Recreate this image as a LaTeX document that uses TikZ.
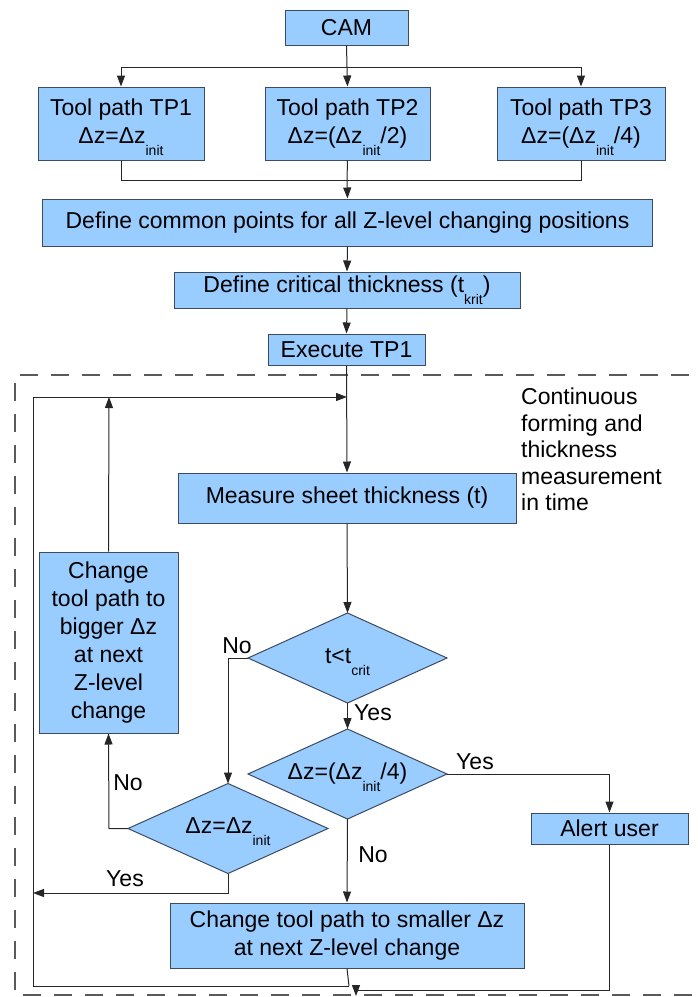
\documentclass[tikz,border=0pt]{standalone}
\usepackage{fontspec}
\setmainfont{Liberation Sans}
\usetikzlibrary{shapes.geometric,arrows.meta}
\definecolor{boxfill}{RGB}{153,204,255}
\definecolor{boxline}{RGB}{60,75,95}
\definecolor{dashcol}{RGB}{90,90,90}
\newcommand{\sbs}[1]{\raisebox{-12pt}{\fontsize{14}{14}\selectfont #1}}
\newcommand{\dtext}[1]{\makebox[0pt][c]{\smash{\raisebox{-5pt}{#1}}}}
\newcommand{\topstrut}{\rule{0pt}{25pt}}
\tikzset{
  box/.style={draw=boxline,fill=boxfill,line width=1pt,inner sep=0pt,align=center,
    font=\fontsize{23}{28}\selectfont},
  dia/.style={diamond,draw=boxline,fill=boxfill,line width=1pt,inner sep=0pt,outer sep=0pt,
    font=\fontsize{23}{28}\selectfont,minimum width=199pt,minimum height=90pt},
  lbl/.style={font=\fontsize{23}{28}\selectfont,inner sep=0pt},
  conn/.style={draw=black!85,line width=1pt},
  arr/.style={conn,-{Triangle[length=11pt,width=8pt]}},
}
\begin{document}
\begin{tikzpicture}[x=1pt,y=-1pt]
\useasboundingbox (0,0) rectangle (697,997);
% dashed frame
\draw[dashcol,line width=1.2pt,dash pattern=on 18pt off 13pt] (720,375) -- (15,375) -- (15,995) -- (720,995);
% nodes
\node[box,minimum width=123pt,minimum height=35pt] (cam) at (346.5,27.5) {CAM};
\node[box,minimum width=166pt,minimum height=73pt] (tp1) at (121,123.5) {\topstrut Tool path TP1\\ Δz=Δz\sbs{init}};
\node[box,minimum width=165pt,minimum height=73pt] (tp2) at (347.5,123.5) {\topstrut Tool path TP2\\ Δz=(Δz\sbs{init}/2)};
\node[box,minimum width=168pt,minimum height=73pt] (tp3) at (581,123.5) {\topstrut Tool path TP3\\ Δz=(Δz\sbs{init}/4)};
\node[box,minimum width=610pt,minimum height=47pt] (common) at (347.5,222.5) {Define common points for all Z-level changing positions};
\node[box,minimum width=346pt,minimum height=36pt] (crit) at (347,290) {Define critical thickness (t\sbs{krit})};
\node[box,minimum width=157pt,minimum height=31pt] (exec) at (346.5,349.5) {Execute TP1};
\node[box,minimum width=338pt,minimum height=50pt] (measure) at (347,498) {Measure sheet thickness (t)};
\node[box,minimum width=139pt,minimum height=181pt] (bigger) at (108.5,642.5) {Change\\ tool path to\\ bigger Δz\\ at next\\ Z-level\\ change};
\node[dia] (d1) at (347.5,658) {\dtext{t<t\sbs{crit}}};
\node[dia] (d2) at (347.5,774) {\dtext{Δz=(Δz\sbs{init}/4)}};
\node[dia,minimum width=200pt] (d3) at (228,828.5) {\dtext{Δz=Δz\sbs{init}}};
\node[box,minimum width=157pt,minimum height=31pt] (alert) at (609.5,828.5) {Alert user};
\node[box,minimum width=354pt,minimum height=65pt] (smaller) at (347,935.5) {Change tool path to smaller Δz\\ at next Z-level change};
\node[lbl,anchor=north west,align=left,font=\fontsize{23}{26.5}\selectfont] (note) at (521,388) {Continuous\\ forming and\\ thickness\\ measurement\\ in time};
% labels
\node[lbl] (lno1) at (237,646) {No};
\node[lbl] (lyes1) at (373,713) {Yes};
\node[lbl] (lyes2) at (475,762) {Yes};
\node[lbl] (lno2) at (373,855) {No};
\node[lbl] (lno3) at (128,783) {No};
\node[lbl] (lyes3) at (125,879) {Yes};
% coordinates
\coordinate (j1) at (347,67);
\coordinate (j2) at (347,180);
\coordinate (lp) at (347,397);
\coordinate (lpL) at (33,397);
\coordinate (up) at (109,397);
\coordinate (bL) at (33,986);
\coordinate (bM) at (349,986);
\coordinate (bR) at (356,990);
\coordinate (bT) at (356,996);
\coordinate (n1) at (228,658);
\coordinate (y3) at (228,893);
\coordinate (y3L) at (33,893);
\coordinate (n3) at (109,828.5);
% connectors
\draw[conn] (cam.south) -- (j1);
\draw[arr] (j1) -| (tp1.north);
\draw[arr] (j1) -| (tp3.north);
\draw[arr] (j1) -- (tp2.north);
\draw[conn] (tp1.south) |- (j2);
\draw[conn] (tp3.south) |- (j2);
\draw[conn] (tp2.south) -- (j2);
\draw[arr] (j2) -- (common.north);
\draw[arr] (common.south) -- (crit.north);
\draw[arr] (crit.south) -- (exec.north);
\draw[arr] (exec.south) -- (measure.north);
\draw[arr] (measure.south) -- (d1.north);
\draw[arr] (d1.south) -- (d2.north);
\draw[arr] (d2.south) -- (smaller.north);
\draw[arr] (d1.west) -- (n1) -- (d3.north);
\draw[arr] (d2.east) -| (alert.north);
\draw[arr] (d3.west) -- (n3) -- (bigger.south);
\draw[arr] (bigger.north) -- (up);
\draw[arr] (d3.south) -- (y3) -- (y3L);
\draw[arr] (bM) -- (bL) -- (lpL) -- (lp);
\draw[conn] (smaller.south) -- (bM);
\draw[conn] (alert.south) |- (bR);
\draw[arr] (bR) -- (bT);
\end{tikzpicture}
\end{document}
